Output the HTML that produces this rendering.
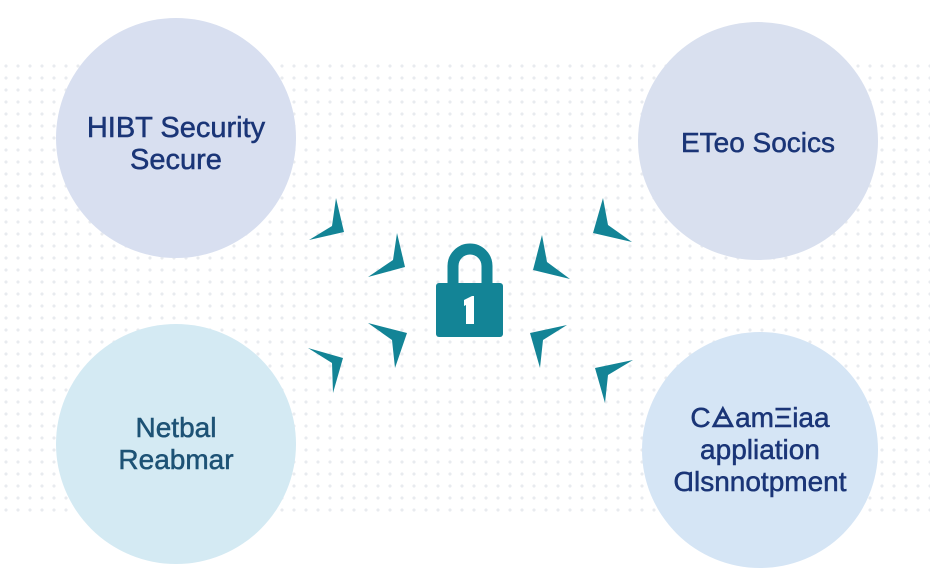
<!DOCTYPE html>
<html><head><style>
body{margin:0;width:930px;height:576px;overflow:hidden;background:#fff;font-family:"Liberation Sans",sans-serif}
.grid{position:absolute;left:0;top:60px;width:930px;height:460px;background-image:radial-gradient(circle,#e8ebef 1.4px,transparent 1.8px);background-size:12px 12px;}
.c{position:absolute;border-radius:50%;display:flex;align-items:center;justify-content:center;text-align:center;color:#1a3577;font-size:28px;line-height:32px;-webkit-text-stroke:0.5px currentColor;box-sizing:border-box}
</style></head><body>
<div class="grid"></div>
<div class="c" style="left:56px;top:18px;width:240px;height:240px;background:#d8dff0;padding-top:12px;font-size:29px">HIBT Security<br>Secure</div>
<div class="c" style="left:638px;top:22px;width:240px;height:238px;background:#d9e0ef;padding-top:4px">ETeo Socics</div>
<div class="c" style="left:56px;top:324px;width:240px;height:240px;background:#d4eaf3;color:#1d5275">Netbal<br>Reabmar</div>
<div class="c" style="left:642px;top:332px;width:236px;height:236px;background:#d5e5f5">C&#x1F701;amΞiaa<br>appliation<br>Ɑlsnnotpment</div>
<svg width="930" height="576" style="position:absolute;left:0;top:0">
<g fill="#138496">
<polygon points="336,198 344,232 309,240 332,226"/>
<polygon points="397,233 405,267 368,277 393,260"/>
<polygon points="542,235 533,270 570,279 547,262"/>
<polygon points="603,198 593,233 632,242 608,225"/>
<polygon points="368,323 407,333 395,368 392,340"/>
<polygon points="308,348 343,358 333,393 332,363"/>
<polygon points="567,325 530,333 540,368 543,340"/>
<polygon points="633,360 595,368 605,403 608,375"/>
<rect x="436" y="283" width="67" height="54" rx="3"/>
</g>
<path d="M453,284 V266 A17,17 0 0 1 487,266 V284" fill="none" stroke="#138496" stroke-width="11"/>
<path d="M464,300 L472,296 L474,296 L474,324 L466,324 L466,305 L464,306 Z" fill="#fff"/>
</svg>
</body></html>
